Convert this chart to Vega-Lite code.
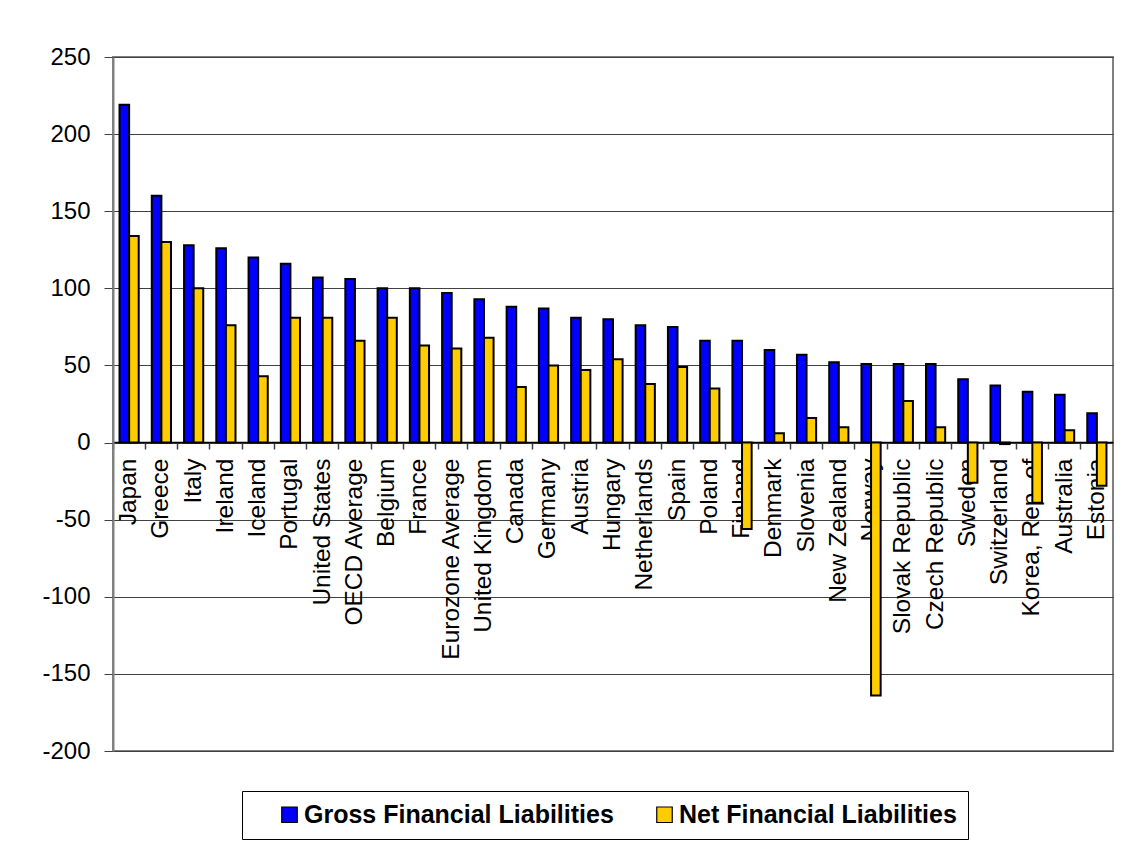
{
  "$schema": "https://vega.github.io/schema/vega-lite/v6.json",
  "autosize": {"type": "none"},
  "padding": {"left": 113, "top": 57, "right": 10, "bottom": 93},
  "width": 1000,
  "height": 694,
  "background": "white",
  "config": {
    "font": "Liberation Sans",
    "view": {"stroke": "#808080", "strokeWidth": 2}
  },
  "data": {
    "values": [
      {"country": "Japan", "series": "Gross Financial Liabilities", "value": 219},
      {"country": "Japan", "series": "Net Financial Liabilities", "value": 134},
      {"country": "Greece", "series": "Gross Financial Liabilities", "value": 160},
      {"country": "Greece", "series": "Net Financial Liabilities", "value": 130},
      {"country": "Italy", "series": "Gross Financial Liabilities", "value": 128},
      {"country": "Italy", "series": "Net Financial Liabilities", "value": 100},
      {"country": "Ireland", "series": "Gross Financial Liabilities", "value": 126},
      {"country": "Ireland", "series": "Net Financial Liabilities", "value": 76},
      {"country": "Iceland", "series": "Gross Financial Liabilities", "value": 120},
      {"country": "Iceland", "series": "Net Financial Liabilities", "value": 43},
      {"country": "Portugal", "series": "Gross Financial Liabilities", "value": 116},
      {"country": "Portugal", "series": "Net Financial Liabilities", "value": 81},
      {"country": "United States", "series": "Gross Financial Liabilities", "value": 107},
      {"country": "United States", "series": "Net Financial Liabilities", "value": 81},
      {"country": "OECD Average", "series": "Gross Financial Liabilities", "value": 106},
      {"country": "OECD Average", "series": "Net Financial Liabilities", "value": 66},
      {"country": "Belgium", "series": "Gross Financial Liabilities", "value": 100},
      {"country": "Belgium", "series": "Net Financial Liabilities", "value": 81},
      {"country": "France", "series": "Gross Financial Liabilities", "value": 100},
      {"country": "France", "series": "Net Financial Liabilities", "value": 63},
      {"country": "Eurozone Average", "series": "Gross Financial Liabilities", "value": 97},
      {"country": "Eurozone Average", "series": "Net Financial Liabilities", "value": 61},
      {"country": "United Kingdom", "series": "Gross Financial Liabilities", "value": 93},
      {"country": "United Kingdom", "series": "Net Financial Liabilities", "value": 68},
      {"country": "Canada", "series": "Gross Financial Liabilities", "value": 88},
      {"country": "Canada", "series": "Net Financial Liabilities", "value": 36},
      {"country": "Germany", "series": "Gross Financial Liabilities", "value": 87},
      {"country": "Germany", "series": "Net Financial Liabilities", "value": 50},
      {"country": "Austria", "series": "Gross Financial Liabilities", "value": 81},
      {"country": "Austria", "series": "Net Financial Liabilities", "value": 47},
      {"country": "Hungary", "series": "Gross Financial Liabilities", "value": 80},
      {"country": "Hungary", "series": "Net Financial Liabilities", "value": 54},
      {"country": "Netherlands", "series": "Gross Financial Liabilities", "value": 76},
      {"country": "Netherlands", "series": "Net Financial Liabilities", "value": 38},
      {"country": "Spain", "series": "Gross Financial Liabilities", "value": 75},
      {"country": "Spain", "series": "Net Financial Liabilities", "value": 49},
      {"country": "Poland", "series": "Gross Financial Liabilities", "value": 66},
      {"country": "Poland", "series": "Net Financial Liabilities", "value": 35},
      {"country": "Finland", "series": "Gross Financial Liabilities", "value": 66},
      {"country": "Finland", "series": "Net Financial Liabilities", "value": -56},
      {"country": "Denmark", "series": "Gross Financial Liabilities", "value": 60},
      {"country": "Denmark", "series": "Net Financial Liabilities", "value": 6},
      {"country": "Slovenia", "series": "Gross Financial Liabilities", "value": 57},
      {"country": "Slovenia", "series": "Net Financial Liabilities", "value": 16},
      {"country": "New Zealand", "series": "Gross Financial Liabilities", "value": 52},
      {"country": "New Zealand", "series": "Net Financial Liabilities", "value": 10},
      {"country": "Norway", "series": "Gross Financial Liabilities", "value": 51},
      {"country": "Norway", "series": "Net Financial Liabilities", "value": -164},
      {"country": "Slovak Republic", "series": "Gross Financial Liabilities", "value": 51},
      {"country": "Slovak Republic", "series": "Net Financial Liabilities", "value": 27},
      {"country": "Czech Republic", "series": "Gross Financial Liabilities", "value": 51},
      {"country": "Czech Republic", "series": "Net Financial Liabilities", "value": 10},
      {"country": "Sweden", "series": "Gross Financial Liabilities", "value": 41},
      {"country": "Sweden", "series": "Net Financial Liabilities", "value": -26},
      {"country": "Switzerland", "series": "Gross Financial Liabilities", "value": 37},
      {"country": "Switzerland", "series": "Net Financial Liabilities", "value": -1},
      {"country": "Korea, Rep. of", "series": "Gross Financial Liabilities", "value": 33},
      {"country": "Korea, Rep. of", "series": "Net Financial Liabilities", "value": -39},
      {"country": "Australia", "series": "Gross Financial Liabilities", "value": 31},
      {"country": "Australia", "series": "Net Financial Liabilities", "value": 8},
      {"country": "Estonia", "series": "Gross Financial Liabilities", "value": 19},
      {"country": "Estonia", "series": "Net Financial Liabilities", "value": -28}
    ]
  },
  "encoding": {
    "x": {
      "field": "country",
      "type": "nominal",
      "sort": null,
      "scale": {"paddingInner": 0, "paddingOuter": 0}
    },
    "y": {
      "field": "value",
      "type": "quantitative",
      "scale": {"domain": [-200, 250], "nice": false, "zero": false}
    }
  },
  "layer": [
    {
      "mark": {"type": "bar", "stroke": "black", "strokeWidth": 2},
      "encoding": {
        "x": {
          "field": "country",
          "type": "nominal",
          "sort": null,
          "title": null,
          "axis": {
            "orient": "bottom",
            "offset": -309,
            "zindex": 0,
            "labelAngle": -90,
            "labelFontSize": 24.5,
            "labelColor": "black",
            "labelPadding": 16,
            "labelOverlap": false,
            "labelLimit": 400,
            "ticks": false,
            "domain": false,
            "grid": false
          }
        },
        "y": {
          "field": "value",
          "type": "quantitative",
          "title": null,
          "axis": {
            "values": [-200, -150, -100, -50, 0, 50, 100, 150, 200, 250],
            "labelExpr": "datum.value < 0 ? '-' + abs(datum.value) : '' + datum.value",
            "zindex": 0,
            "labelFontSize": 24,
            "labelColor": "black",
            "labelPadding": 14,
            "tickSize": 9,
            "tickColor": "#404040",
            "domainColor": "#808080",
            "domainWidth": 2,
            "gridColor": "#404040",
            "gridWidth": 1
          }
        },
        "xOffset": {
          "field": "series",
          "type": "nominal",
          "scale": {"paddingInner": 0, "paddingOuter": 0.68}
        },
        "color": {
          "field": "series",
          "type": "nominal",
          "scale": {
            "domain": ["Gross Financial Liabilities", "Net Financial Liabilities"],
            "range": ["#0000FF", "#FFCC00"]
          },
          "legend": {
            "title": null,
            "orient": "none",
            "legendX": 129,
            "legendY": 734,
            "direction": "horizontal",
            "columns": 2,
            "columnPadding": 14,
            "padding": 11,
            "symbolOffset": 24,
            "strokeColor": "black",
            "fillColor": "white",
            "symbolType": "square",
            "symbolSize": 240,
            "symbolStrokeColor": "black",
            "symbolStrokeWidth": 1.2,
            "symbolOpacity": 1,
            "labelFontSize": 25,
            "labelFontWeight": "bold",
            "labelColor": "black",
            "labelOffset": 2,
            "labelLimit": 500
          }
        }
      }
    },
    {
      "mark": {"type": "bar", "opacity": 0},
      "encoding": {
        "x": {
          "field": "country",
          "type": "nominal",
          "sort": null,
          "title": null,
          "axis": {
            "orient": "bottom",
            "offset": -309,
            "bandPosition": 0,
            "labels": false,
            "ticks": true,
            "tickSize": 7,
            "tickWidth": 1.5,
            "tickColor": "#404040",
            "domain": true,
            "domainColor": "black",
            "domainWidth": 1.5,
            "grid": false
          }
        },
        "y": {"datum": 0}
      }
    }
  ],
  "resolve": {"axis": {"x": "independent"}}
}
